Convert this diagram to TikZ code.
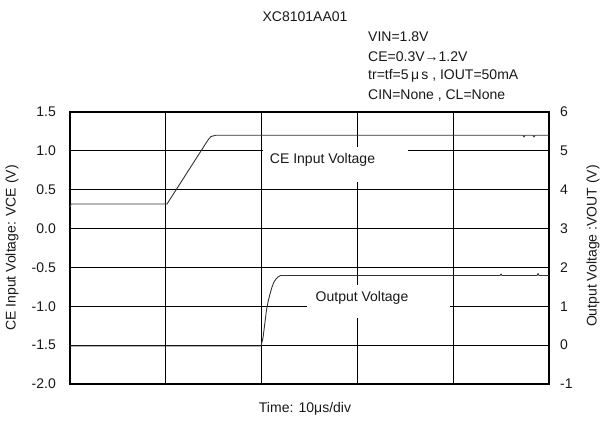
\documentclass[tikz,border=0pt]{standalone}
\usepackage{fontspec}
\setmainfont{Liberation Sans}
\begin{document}
\begin{tikzpicture}[x=1pt,y=-1pt,
  gridline/.style={line width=1.1pt,black},
  framebox/.style={line width=1.6pt,black},
  trace/.style={line width=0.9pt,black!80,line join=round},
  lbl/.style={font=\fontsize{14}{16}\selectfont,inner sep=0pt,text=black!90},
  blank/.style={fill=white,draw=none}]
\useasboundingbox (0,0) rectangle (601,420);
\fill[white] (0,0) rectangle (601,420);
% grid
\foreach \k in {1,...,6} \draw[gridline] (70,{112+\k*38.857}) -- (549,{112+\k*38.857});
\foreach \k in {1,...,4} \draw[gridline] ({70+\k*95.8},112) -- ({70+\k*95.8},384);
\draw[framebox] (70,112) rectangle (549,384);
% label boxes
\fill[blank] (263,147) rectangle (408,182);
\fill[blank] (307,285) rectangle (450,318);
% CE input trace
\draw[trace] (70,207) -- (71,204) -- (167,204) -- (208,140) -- (211,136.5) -- (216,135.2) -- (523,135.2) -- (524,137) -- (525,135.2) -- (533,135.2) -- (534,137) -- (535,135.2) -- (549,135.2);
% output trace
\draw[trace] (70,346) -- (261,346) -- (263,338) -- (265,322) -- (266.5,310) -- (268,302) -- (270,294) -- (272,287) -- (274,282) -- (276,279) -- (278,277) -- (280.5,275.5) -- (500,275.5) -- (501,274) -- (502,275.5) -- (537,275.5) -- (538,273.5) -- (539,275.5) -- (549,275.5);
% labels
\node[lbl] (ceLabel) at (322.5,159.5) {CE Input Voltage};
\node[lbl] (outLabel) at (362,297.5) {Output Voltage};
\node[lbl] (title) at (305,17) {XC8101AA01};
\node[lbl,anchor=west] (c1) at (368,37) {VIN=1.8V};
\node[lbl,anchor=west] (c2) at (368,56.5) {CE=0.3V→1.2V};
\node[lbl,anchor=west] (c3) at (368,76) {tr=tf=5\,μ\,s , IOUT=50mA};
\node[lbl,anchor=west] (c4) at (368,96) {CIN=None , CL=None};
\foreach \v [count=\i from 0] in {1.5,1.0,0.5,0.0,-0.5,-1.0,-1.5,-2.0}
  \node[lbl,anchor=east] (ly\i) at (56,{112+\i*38.857}) {\v};
\foreach \v [count=\i from 0] in {6,5,4,3,2,1,0,-1}
  \node[lbl,anchor=west] (ry\i) at (560,{112+\i*38.857}) {\v};
\node[lbl,rotate=90] (yl) at (12,248) {CE Input Voltage: VCE (V)};
\node[lbl,rotate=90] (yr) at (593,246) {Output Voltage :VOUT (V)};
\node[lbl] (xl) at (305,409) {Time: 10μs/div};
\end{tikzpicture}
\end{document}
